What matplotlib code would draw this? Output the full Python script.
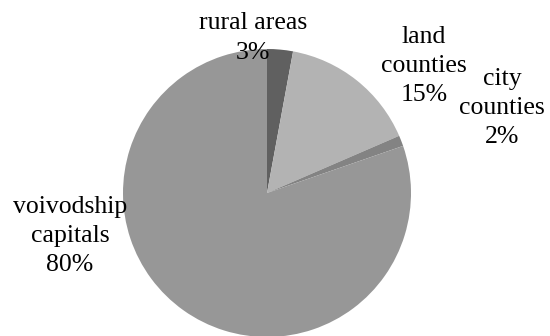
import matplotlib
matplotlib.use('Agg')
import matplotlib.pyplot as plt

# shares (clockwise from 12 o'clock)
categories = ['rural areas', 'land counties', 'city counties', 'voivodship capitals']
values = [2.9, 15.6, 1.2, 80.3]
label_texts = ['rural areas\n3%', 'land\ncounties\n15%', 'city\ncounties\n2%', 'voivodship\ncapitals\n80%']
colors = ['#606060', '#b3b3b3', '#838383', '#979797']

# label centres in pixel coords (x, y from top)
label_pos = [(253, 38), (424, 66), (502, 108), (70, 236)]

W, H = 550, 336
fig = plt.figure(figsize=(W / 100, H / 100), dpi=100)
ax = fig.add_axes([0, 0, 1, 1])

ax.pie(values, colors=colors, startangle=90, counterclock=False,
       center=(267, H - 193), radius=144,
       wedgeprops={'linewidth': 0})

for txt, (x, y) in zip(label_texts, label_pos):
    ax.text(x, H - y, txt, ha='center', va='center', multialignment='center',
            fontsize=18.5, family='Liberation Serif', linespacing=1.42, color='black')

ax.set_xlim(0, W)
ax.set_ylim(0, H)
ax.set_aspect('equal')
ax.axis('off')

fig.savefig('out.png', dpi=100)
